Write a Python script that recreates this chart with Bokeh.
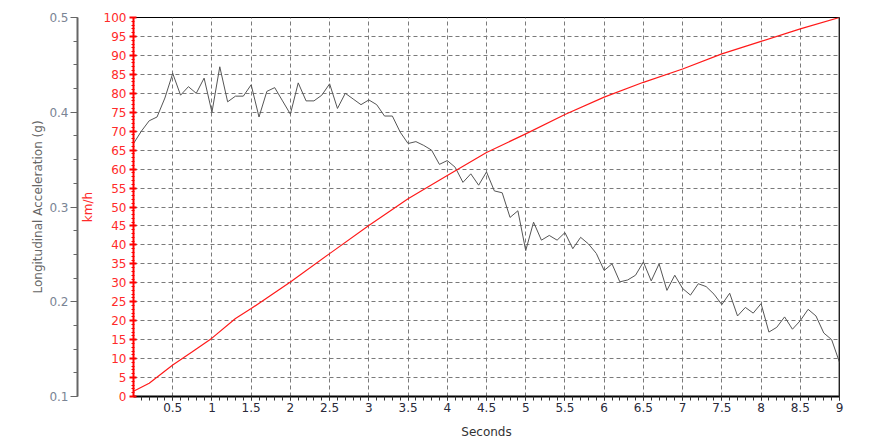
from bokeh.plotting import figure
from bokeh.models import Range1d, LinearAxis, SingleIntervalTicker, FixedTicker, Span
from bokeh.embed import file_html
from bokeh.resources import INLINE

# ---- data ----
time_s = [0.0, 0.1, 0.2, 0.3, 0.4, 0.5, 0.6, 0.7, 0.8, 0.9,
          1.0, 1.1, 1.2, 1.3, 1.4, 1.5, 1.6, 1.7, 1.8, 1.9,
          2.0, 2.1, 2.2, 2.3, 2.4, 2.5, 2.6, 2.7, 2.8, 2.9,
          3.0, 3.1, 3.2, 3.3, 3.4, 3.5, 3.6, 3.7, 3.8, 3.9,
          4.0, 4.1, 4.2, 4.3, 4.4, 4.5, 4.6, 4.7, 4.8, 4.9,
          5.0, 5.1, 5.2, 5.3, 5.4, 5.5, 5.6, 5.7, 5.8, 5.9,
          6.0, 6.1, 6.2, 6.3, 6.4, 6.5, 6.6, 6.7, 6.8, 6.9,
          7.0, 7.1, 7.2, 7.3, 7.4, 7.5, 7.6, 7.7, 7.8, 7.9,
          8.0, 8.1, 8.2, 8.3, 8.4, 8.5, 8.6, 8.7, 8.8, 8.9, 9.0]
accel_g = [0.367, 0.380, 0.391, 0.395, 0.415, 0.441, 0.418, 0.427, 0.420, 0.436,
           0.400, 0.448, 0.411, 0.417, 0.417, 0.429, 0.395, 0.422, 0.426, 0.412,
           0.398, 0.431, 0.412, 0.412, 0.418, 0.430, 0.404, 0.420, 0.414, 0.408,
           0.413, 0.408, 0.396, 0.396, 0.379, 0.367, 0.369, 0.365, 0.360, 0.345,
           0.349, 0.342, 0.326, 0.335, 0.323, 0.337, 0.317, 0.315, 0.289, 0.296,
           0.254, 0.284, 0.265, 0.270, 0.265, 0.273, 0.256, 0.268, 0.261, 0.251,
           0.233, 0.240, 0.221, 0.223, 0.228, 0.242, 0.222, 0.240, 0.212, 0.228,
           0.214, 0.207, 0.219, 0.216, 0.208, 0.197, 0.209, 0.185, 0.194, 0.188,
           0.198, 0.168, 0.173, 0.184, 0.171, 0.180, 0.192, 0.185, 0.167, 0.160, 0.136]

speed_t = [0.0, 0.2, 0.5, 0.75, 1.0, 1.3, 1.5, 2.0, 2.5, 3.0, 3.5, 4.0, 4.5,
           5.0, 5.5, 6.0, 6.5, 7.0, 7.5, 8.0, 8.5, 9.0]
speed_kmh = [1.4, 3.5, 8.3, 11.8, 15.4, 20.6, 23.2, 30.2, 37.7, 45.1, 52.2, 58.3, 64.4,
             69.3, 74.4, 79.0, 82.9, 86.4, 90.4, 93.7, 97.0, 100.0]

x_ticks = [0.5, 1, 1.5, 2, 2.5, 3, 3.5, 4, 4.5, 5, 5.5, 6, 6.5, 7, 7.5, 8, 8.5, 9]
x_minor = [i / 10 for i in range(1, 91)]

FONT = "DejaVu Sans"

p = figure(frame_width=706, frame_height=379,
           min_border_left=133, min_border_top=17, min_border_right=20, min_border_bottom=40,
           x_range=Range1d(0, 9), y_range=Range1d(0, 100),
           output_backend="svg", toolbar_location=None,
           background_fill_color="white", border_fill_color="white")
p.extra_y_ranges = {"g": Range1d(0.1, 0.5)}

p.outline_line_color = "black"
p.outline_line_width = 1

# ---- x axis ----
xa = p.xaxis[0]
xa.ticker = FixedTicker(ticks=x_ticks, minor_ticks=x_minor)
xa.axis_label = "Seconds"
xa.axis_label_text_font = FONT
xa.axis_label_text_font_size = "12px"
xa.axis_label_text_font_style = "normal"
xa.axis_label_text_color = "#333333"
xa.axis_label_standoff = 10
xa.major_label_text_font = FONT
xa.major_label_text_font_size = "12px"
xa.major_label_text_color = "#2a2a3a"
xa.major_label_standoff = 2
xa.axis_line_color = "black"
xa.axis_line_width = 2
xa.major_tick_line_color = "#333333"
xa.minor_tick_line_color = "#333333"
xa.major_tick_in = 0
xa.major_tick_out = 4
xa.minor_tick_in = 0
xa.minor_tick_out = 4

# ---- km/h axis (closest to plot) ----
ya = p.yaxis[0]
ya.ticker = SingleIntervalTicker(interval=5, num_minor_ticks=5)
ya.axis_label = "km/h"
ya.axis_label_text_font = FONT
ya.axis_label_text_font_size = "12px"
ya.axis_label_text_font_style = "normal"
ya.axis_label_text_color = "#ff2a2a"
ya.axis_label_standoff = 6
ya.major_label_text_font = FONT
ya.major_label_text_font_size = "12px"
ya.major_label_text_color = "#ff2a2a"
ya.major_label_standoff = 3
ya.axis_line_color = "red"
ya.axis_line_width = 2
ya.major_tick_line_color = "red"
ya.major_tick_line_width = 2
ya.minor_tick_line_color = "red"
ya.major_tick_in = 3
ya.major_tick_out = 4
ya.minor_tick_in = 1
ya.minor_tick_out = 2

# ---- g axis (outer) ----
ga = LinearAxis(y_range_name="g",
                ticker=SingleIntervalTicker(interval=0.1, num_minor_ticks=4))
ga.axis_label = "Longitudinal Acceleration (g)"
ga.axis_label_text_font = FONT
ga.axis_label_text_font_size = "12px"
ga.axis_label_text_font_style = "normal"
ga.axis_label_text_color = "#666666"
ga.axis_label_standoff = 1
ga.major_label_text_font = FONT
ga.major_label_text_font_size = "12px"
ga.major_label_text_color = "#7a8494"
ga.major_label_standoff = 2
ga.axis_line_color = "#666666"
ga.axis_line_width = 2
ga.major_tick_line_color = "#666666"
ga.minor_tick_line_color = "#666666"
ga.major_tick_in = 0
ga.major_tick_out = 7
ga.minor_tick_in = 0
ga.minor_tick_out = 4
p.add_layout(ga, "left")

# ---- grid ----
p.xgrid.ticker = FixedTicker(ticks=x_ticks)
p.ygrid.ticker = SingleIntervalTicker(interval=5)
for g in (p.xgrid[0], p.ygrid[0]):
    g.grid_line_color = "#7a7a7a"
    g.grid_line_dash = "4 3"
    g.grid_line_width = 1

# right border
p.add_layout(Span(location=9, dimension="height", line_color="#444444", line_width=2))

# ---- lines ----
p.line(time_s, accel_g, y_range_name="g", line_color="#555555", line_width=1)
p.line(speed_t, speed_kmh, line_color="#ff1a1a", line_width=1.2)

open("out.html", "w").write(file_html(p, INLINE))
